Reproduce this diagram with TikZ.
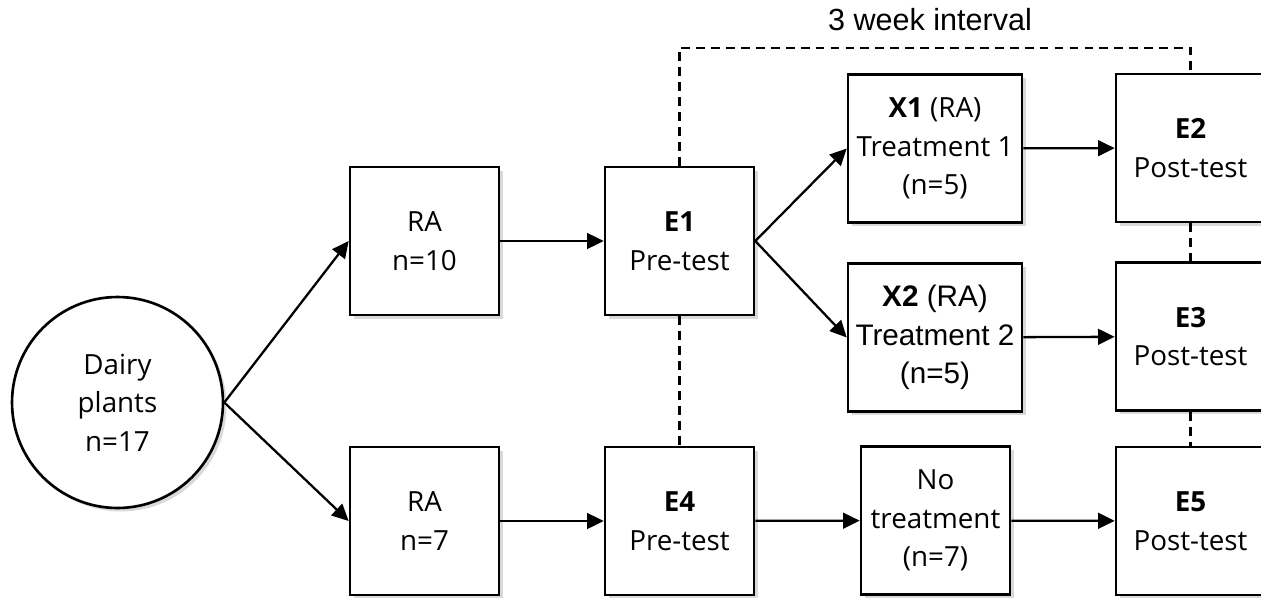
\documentclass[tikz,border=0pt]{standalone}
\usepackage{fontspec}
\setmainfont{Open Sans}
\newfontfamily\arialfont{Liberation Sans}
\usetikzlibrary{arrows.meta,shadows}

\tikzset{
	box/.style={draw, line width=1.5pt, fill=white, align=center, inner sep=0pt,
		minimum width=2.98cm, minimum height=2.96cm,
		font=\fontsize{15.8}{22}\selectfont,
		drop shadow={shadow xshift=2pt, shadow yshift=-2pt, opacity=0.3}},
	link/.style={-{Triangle[length=9.5pt,width=9pt]}, line width=1.3pt},
	gap/.style={line width=1.3pt, dash pattern=on 5pt off 3.5pt}
}

\begin{document}
\begin{tikzpicture}[x=0.02cm, y=-0.02cm]
			%%%%% START %%%%%
			
			\useasboundingbox (0, 0) rectangle (1261, 598);
			\clip (0, 0) rectangle (1261, 598);
			
			\node[box, circle, minimum size=4.22cm] (plants) at (117.5, 402.5) {Dairy\\plants\\n=17};
			
			\node[box] (ra1) at (424.5, 241) {RA\\n=10};
			\node[box] (ra2) at (424.5, 521) {RA\\n=7};
			
			\node[box] (e1) at (679.5, 241) {\textbf{E1}\\Pre-test};
			\node[box] (e4) at (679.5, 521) {\textbf{E4}\\Pre-test};
			
			\node[box, minimum width=3.48cm] (x1) at (935, 148.5) {\textbf{X1} (RA)\\Treatment 1\\(n=5)};
			\node[box, minimum width=3.48cm, font=\arialfont\fontsize{16.9}{22}\selectfont] (x2) at (935, 337.5) {\textbf{X2} (RA)\\Treatment 2\\(n=5)};
			\node[box] (none) at (935.5, 520.5) {No\\treatment\\(n=7)};
			
			\node[box] (e2) at (1190.5, 148) {\textbf{E2}\\Post-test};
			\node[box] (e3) at (1190.5, 336.5) {\textbf{E3}\\Post-test};
			\node[box] (e5) at (1190.5, 521) {\textbf{E5}\\Post-test};
			
			% arrows
			\draw[link] (plants.east) -- (ra1.west);
			\draw[link] (plants.east) -- (ra2.west);
			\draw[link] (ra1) -- (e1);
			\draw[link] (ra2) -- (e4);
			\draw[link] (e1.east) -- (x1.west);
			\draw[link] (e1.east) -- (x2.west);
			\draw[link] (x1) -- (e2);
			\draw[link] (x2) -- (e3);
			\draw[link] (e4) -- (none);
			\draw[link] (none) -- (e5);
			
			% 3 weeks between pre and post
			\coordinate (top) at (0, 48);
			\draw[gap] (e1.north) -- (e1.north |- top) -| (e2.north);
			\draw[gap] (e1.south) -- (e4.north);
			\draw[gap] (e2.south) -- (e3.north);
			\draw[gap] (e3.south) -- (e5.north);
			\node[font=\arialfont\fontsize{17.4}{22}\selectfont] (label) at (930, 20) {3 week interval};
			
			%%%%% END %%%%%
		\end{tikzpicture}
\end{document}
